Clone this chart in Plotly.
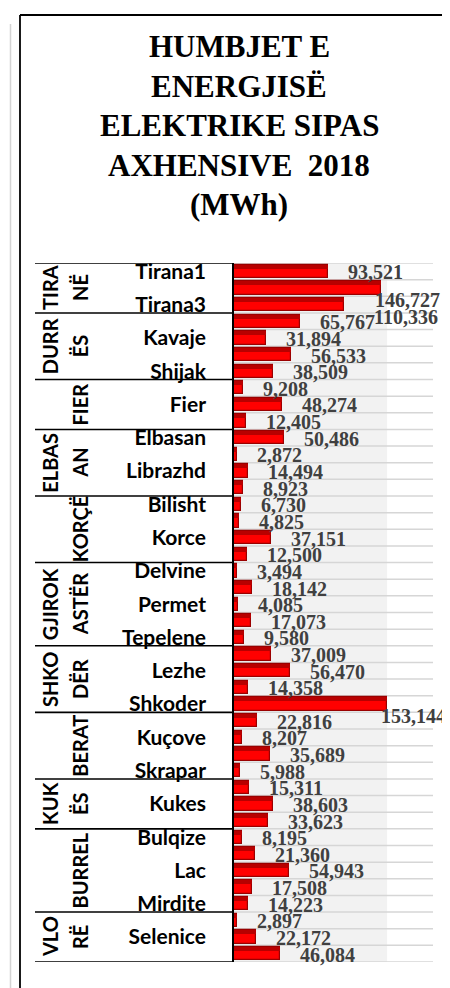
import plotly.graph_objects as go

# ---------------- data ----------------
agencies = ["Tirana1", "Tirana2", "Tirana3",
            "Durres", "Kavaje", "Kruje", "Shijak",
            "Ballsh", "Fier", "Patos",
            "Elbasan", "Gramsh", "Librazhd", "Peqin",
            "Bilisht", "Erseke", "Korce", "Pogradec",
            "Delvine", "Gjirokaster", "Permet", "Sarande", "Tepelene",
            "Koplik", "Lezhe", "Puke", "Shkoder",
            "Berat", "Kuçove", "Lushnje", "Skrapar",
            "Has", "Kukes", "Tropoje",
            "Bulqize", "Diber", "Lac", "Mat", "Mirdite",
            "Himare", "Selenice", "Vlore"]
losses_mwh = [93521, 146727, 110336,
              65767, 31894, 56533, 38509,
              9208, 48274, 12405,
              50486, 2872, 14494, 8923,
              6730, 4825, 37151, 12500,
              3494, 18142, 4085, 17073, 9580,
              37009, 56470, 14358, 153144,
              22816, 8207, 35689, 5988,
              15311, 38603, 33623,
              8195, 21360, 54943, 17508, 14223,
              2897, 22172, 46084]
regions = [["TIRA", "NË"], ["DURR", "ËS"], ["", "FIER"], ["ELBAS", "AN"],
           ["", "KORÇË"], ["GJIROK", "ASTËR"], ["SHKO", "DËR"], ["", "BERAT"],
           ["KUK", "ËS"], ["", "BURREL"], ["VLO", "RË"]]
region_sizes = [3, 4, 3, 4, 4, 5, 4, 4, 3, 5, 3]
title_lines = ["HUMBJET E", "ENERGJISË", "ELEKTRIKE SIPAS", "AXHENSIVE  2018", "(MWh)"]

# ---------------- layout geometry (pixels) ----------------
W, H = 450, 988
L, R, T, B = 226, 425, 255, 954
PW, PH = R - L, B - T


def px_x(p):
    return (p - L) / PW


def px_y(p):
    return 1 - (p - T) / PH


n = len(agencies)
rows = list(range(n))

fig = go.Figure()

# bars
fig.add_trace(go.Bar(
    x=losses_mwh, y=rows, orientation="h", width=0.8,
    marker=dict(color="#ff0000", line=dict(color="#9a0000", width=1.2)),
    hoverinfo="x+text", hovertext=agencies, showlegend=False,
))
# darker top strip (3D look)
fig.add_trace(go.Bar(
    x=losses_mwh, y=rows, orientation="h", width=0.24, offset=-0.4,
    marker=dict(color="#b80000", line=dict(width=0)),
    hoverinfo="skip", showlegend=False,
))

shapes = []
# light back band
shapes.append(dict(type="rect", xref="x", yref="paper", x0=0, x1=max(losses_mwh),
                   y0=0, y1=1, fillcolor="#f2f2f2", line=dict(width=0), layer="below"))
# row gridlines
for k in range(n + 1):
    shapes.append(dict(type="line", xref="paper", yref="y", x0=0, x1=1,
                       y0=k - 0.5, y1=k - 0.5, line=dict(color="#d6d6d6", width=1.5),
                       layer="below"))
# group separators in the label table
bounds = [0]
for s in region_sizes:
    bounds.append(bounds[-1] + s)
for b in bounds:
    shapes.append(dict(type="line", xref="paper", yref="y", x0=px_x(27), x1=0,
                       y0=b - 0.5, y1=b - 0.5, line=dict(color="black", width=1.6)))
# outer frame
shapes.append(dict(type="line", xref="paper", yref="paper", x0=px_x(12), x1=px_x(12),
                   y0=px_y(7), y1=px_y(H + 5), line=dict(color="black", width=1.8)))
shapes.append(dict(type="line", xref="paper", yref="paper", x0=px_x(12), x1=px_x(W + 5),
                   y0=px_y(7), y1=px_y(7), line=dict(color="black", width=1.8)))
shapes.append(dict(type="line", xref="paper", yref="paper", x0=px_x(2.5), x1=px_x(2.5),
                   y0=px_y(16), y1=px_y(H + 5), line=dict(color="#d4d4d4", width=1.5)))

annotations = []
# title
title_y = [37, 76, 116, 156, 195]
for line, yy in zip(title_lines, title_y):
    annotations.append(dict(text=line, xref="paper", yref="paper", x=px_x(231), y=px_y(yy + 2),
                            xanchor="center", yanchor="middle", showarrow=False,
                            font=dict(family="Liberation Serif", size=31, color="black",
                                      weight="bold")))
# region labels
for (l1, l2), s0, s1 in zip(regions, bounds[:-1], bounds[1:]):
    yc = (s0 + s1 - 1) / 2
    for txt, xx in ((l1, 42), (l2, 72)):
        if txt:
            annotations.append(dict(text=txt, xref="paper", yref="y", x=px_x(xx), y=yc,
                                    xanchor="center", yanchor="middle", textangle=-90,
                                    showarrow=False,
                                    font=dict(family="Lato", size=20, color="black",
                                              weight="bold")))
# data labels
for i, v in enumerate(losses_mwh):
    if v > 140000:
        dx, dy = -8, -12
    elif v > 100000:
        dx, dy = 28, -12
    else:
        dx, dy = 18, -1
    annotations.append(dict(text=f"{v:,}", x=v, y=i, xref="x", yref="y",
                            xanchor="left", yanchor="middle", xshift=dx, yshift=dy,
                            showarrow=False,
                            font=dict(family="Liberation Serif", size=20, color="#404040",
                                      weight="bold")))

label_rows = rows[0::2]
fig.update_layout(
    width=W, height=H,
    margin=dict(l=L, r=W - R, t=T, b=H - B, autoexpand=False),
    paper_bgcolor="white", plot_bgcolor="rgba(0,0,0,0)",
    barmode="overlay", bargap=0,
    shapes=shapes, annotations=annotations,
    xaxis=dict(range=[0, PW * 1000], visible=False, fixedrange=True, automargin=False),
    yaxis=dict(range=[n - 0.5, -0.5], tickmode="array", tickvals=label_rows,
               ticktext=[agencies[i] for i in label_rows], automargin=False,
               showgrid=False, zeroline=False, showline=True, linecolor="black",
               linewidth=1.6, ticks="", ticklabelstandoff=22,
               tickfont=dict(family="Lato", size=21, color="black", weight="bold")),
)

fig.write_html("out.html")
